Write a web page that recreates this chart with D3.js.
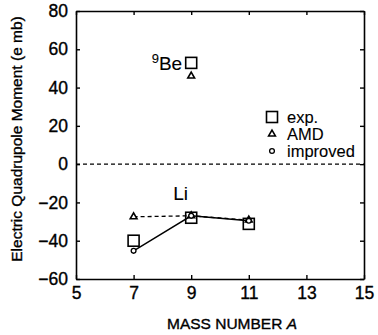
<!DOCTYPE html>
<html>
<head>
<meta charset="utf-8">
<script src="https://cdn.jsdelivr.net/npm/d3@7"></script>
<style>
  html, body { margin: 0; padding: 0; background: #fff; }
  svg { display: block; font-family: "Liberation Sans", Arial, Helvetica, sans-serif; }
  svg text { fill: #000; stroke: #000; stroke-width: 0.35px; }
  svg text.plain { stroke-width: 0.1px; }
</style>
</head>
<body>
<svg id="chart" width="378" height="335"></svg>
<script>
// Quadrupole moments of Li isotopes and 9Be (e mb)
const liMass = [7, 9, 11];
const liExp = [-40.0, -28.0, -31.2];
const liAMD = [-27.5, -27.0, -29.2];
const liImproved = [-45.3, -27.0, -29.6];

const beMass = [9];
const beExp = [52.9];
const beAMD = [46.0];

const xTicks = [5, 7, 9, 11, 13, 15];
const yTicks = [-60, -40, -20, 0, 20, 40, 60, 80];
const legendItems = ["exp.", "AMD", "improved"];

const margin = { left: 76, top: 11, right: 14, bottom: 56 };
const W = 378, H = 335;
const svg = d3.select("#chart");
const x = d3.scaleLinear().domain([5, 15]).range([margin.left, W - margin.right]);
const y = d3.scaleLinear().domain([-60, 80]).range([H - margin.bottom, margin.top]);

const tickLen = 4;
const axisStyle = g => {
  g.select(".domain").attr("stroke", "#000").attr("stroke-width", 1.6);
  g.selectAll(".tick line").attr("stroke", "#000").attr("stroke-width", 1.4);
};

// bottom axis with labels, inward ticks
svg.append("g")
  .attr("transform", `translate(0,${y(-60)})`)
  .call(d3.axisBottom(x).tickValues(xTicks).tickSize(-tickLen).tickPadding(8).tickSizeOuter(0))
  .call(axisStyle)
  .call(g => g.selectAll(".tick text").attr("font-size", 17.5).attr("font-family", null));

// top axis, ticks only
svg.append("g")
  .attr("transform", `translate(0,${y(80)})`)
  .call(d3.axisTop(x).tickValues(xTicks).tickSize(-tickLen).tickFormat("").tickSizeOuter(0))
  .call(axisStyle);

// left axis with labels, inward ticks
svg.append("g")
  .attr("transform", `translate(${x(5)},0)`)
  .call(d3.axisLeft(y).tickValues(yTicks).tickSize(-tickLen).tickPadding(8).tickSizeOuter(0)
    .tickFormat(d => d < 0 ? "\u2212" + Math.abs(d) : d))
  .call(axisStyle)
  .call(g => g.selectAll(".tick text").attr("font-size", 17.5).attr("font-family", null));

// right axis, ticks only
svg.append("g")
  .attr("transform", `translate(${x(15)},0)`)
  .call(d3.axisRight(y).tickValues(yTicks).tickSize(-tickLen).tickFormat("").tickSizeOuter(0))
  .call(axisStyle);

// zero reference line
svg.append("line")
  .attr("x1", x(5)).attr("x2", x(15))
  .attr("y1", y(0)).attr("y2", y(0))
  .attr("stroke", "#000").attr("stroke-width", 1.2)
  .attr("stroke-dasharray", "4,3");

const line = d3.line().x(d => x(d[0])).y(d => y(d[1]));

// AMD (dashed) and improved (solid) curves for Li
svg.append("path")
  .datum(liMass.map((m, i) => [m, liAMD[i]]))
  .attr("d", line).attr("fill", "none")
  .attr("stroke", "#000").attr("stroke-width", 1.3).attr("stroke-dasharray", "4,3");
svg.append("path")
  .datum(liMass.map((m, i) => [m, liImproved[i]]))
  .attr("d", line).attr("fill", "none")
  .attr("stroke", "#000").attr("stroke-width", 1.4);

const sq = 11;
function square(g, cx, cy) {
  g.append("rect").attr("x", cx - sq / 2).attr("y", cy - sq / 2)
    .attr("width", sq).attr("height", sq)
    .attr("fill", "none").attr("stroke", "#000").attr("stroke-width", 1.6);
}
const triPath = d3.symbol().type(d3.symbolTriangle).size(20)();
function triangle(g, cx, cy) {
  g.append("path").attr("d", triPath).attr("transform", `translate(${cx},${cy})`)
    .attr("fill", "#fff").attr("stroke", "#000").attr("stroke-width", 1.6);
}
function circle(g, cx, cy) {
  g.append("circle").attr("cx", cx).attr("cy", cy).attr("r", 2.4)
    .attr("fill", "#fff").attr("stroke", "#000").attr("stroke-width", 1.3);
}

const marks = svg.append("g");
liMass.forEach((m, i) => triangle(marks, x(m), y(liAMD[i])));
beMass.forEach((m, i) => triangle(marks, x(m), y(beAMD[i])));
liMass.forEach((m, i) => circle(marks, x(m), y(liImproved[i])));
liMass.forEach((m, i) => square(marks, x(m), y(liExp[i])));
beMass.forEach((m, i) => square(marks, x(m), y(beExp[i])));

// nucleus labels
const be = svg.append("text").attr("class", "plain")
  .attr("x", x(9) - 9).attr("y", y(beExp[0]) + 7)
  .attr("text-anchor", "end").attr("font-size", 19);
be.append("tspan").attr("font-size", 13).attr("dy", -7).text("9");
be.append("tspan").attr("dy", 7).text("Be");
svg.append("text").attr("class", "plain")
  .attr("x", x(9) - 18).attr("y", y(-20) - 2)
  .attr("font-size", 19).text("Li");

// legend
const lg = svg.append("g");
const lx = 272, ly0 = 117, dy = 17;
legendItems.forEach((t, i) => {
  const cy = ly0 + i * dy;
  if (i === 0) square(lg, lx, cy);
  else if (i === 1) triangle(lg, lx, cy);
  else circle(lg, lx, cy);
  lg.append("text").attr("class", "plain").attr("x", lx + 15).attr("y", cy + 5.5)
    .attr("font-size", 16.5).text(t);
});

// axis titles
const xt = svg.append("text").attr("x", 232).attr("y", 329)
  .attr("text-anchor", "middle").attr("font-size", 15.5);
xt.append("tspan").text("MASS NUMBER ");
xt.append("tspan").attr("font-style", "italic").text("A");

svg.append("text")
  .attr("transform", "translate(22,139) rotate(-90)")
  .attr("text-anchor", "middle").attr("font-size", 15.5)
  .text("Electric Quadrupole Moment (e mb)");
</script>
</body>
</html>
